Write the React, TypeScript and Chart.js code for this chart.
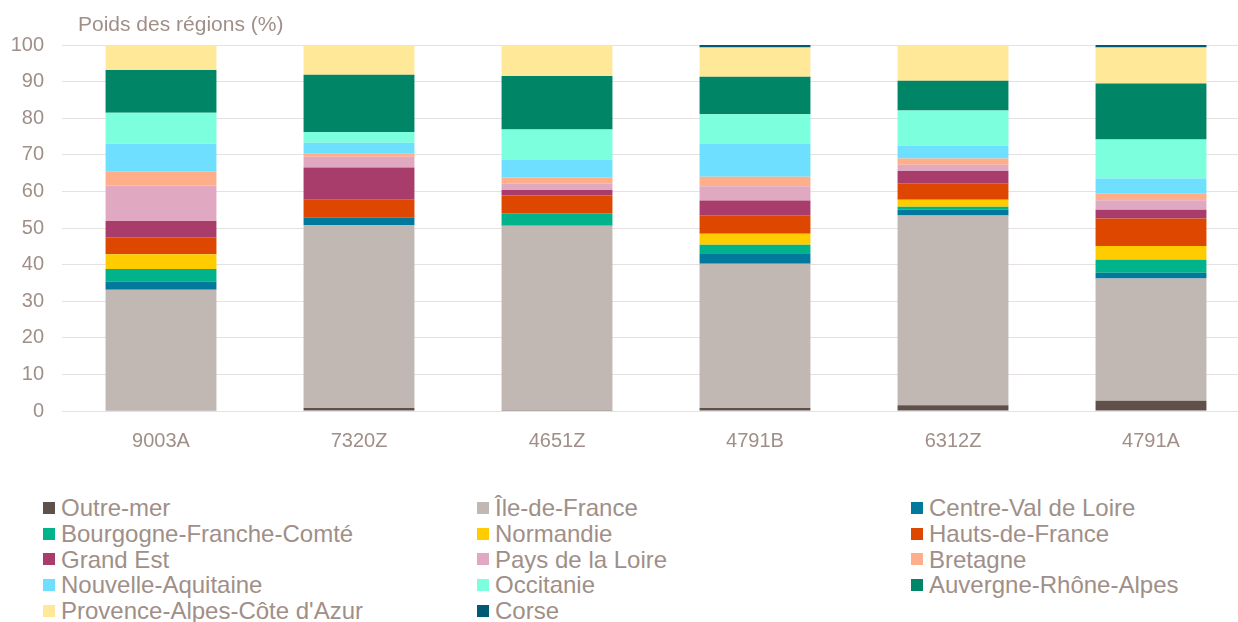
import React, { useEffect, useRef } from "react";
import { Chart, registerables } from "chart.js";

Chart.register(...registerables);

const categories = ["9003A", "7320Z", "4651Z", "4791B", "6312Z", "4791A"];
const yTicks = [0, 10, 20, 30, 40, 50, 60, 70, 80, 90, 100];
const yTitle = "Poids des régions (%)";

const outreMer = [0.2, 0.8, 0.1, 0.8, 1.6, 2.8];
const ileDeFrance = [32.9, 50.0, 50.5, 39.4, 51.8, 33.4];
const centreValDeLoire = [2.2, 2.0, 0, 2.7, 1.6, 1.6];
const bourgogneFC = [3.5, 0, 3.4, 2.5, 0.8, 3.5];
const normandie = [4.0, 0, 0, 3.0, 1.9, 3.8];
const hautsDeFrance = [4.7, 4.9, 4.9, 5.1, 4.5, 7.5];
const grandEst = [4.4, 8.8, 1.5, 4.0, 3.4, 2.4];
const paysDeLaLoire = [9.7, 3.0, 1.7, 3.9, 1.7, 2.6];
const bretagne = [3.9, 0.9, 1.7, 2.6, 1.7, 1.9];
const nouvelleAquitaine = [7.5, 2.9, 4.9, 9.1, 3.5, 4.0];
const occitanie = [8.5, 2.9, 8.2, 8.0, 9.6, 10.7];
const auvergneRA = [11.7, 15.7, 14.6, 10.2, 8.1, 15.3];
const paca = [6.8, 8.1, 8.5, 8.0, 9.8, 9.8];
const corse = [0, 0, 0, 0.7, 0, 0.7];

const seriesNames = [
  "Outre-mer",
  "Île-de-France",
  "Centre-Val de Loire",
  "Bourgogne-Franche-Comté",
  "Normandie",
  "Hauts-de-France",
  "Grand Est",
  "Pays de la Loire",
  "Bretagne",
  "Nouvelle-Aquitaine",
  "Occitanie",
  "Auvergne-Rhône-Alpes",
  "Provence-Alpes-Côte d'Azur",
  "Corse",
];
const seriesValues = [
  outreMer,
  ileDeFrance,
  centreValDeLoire,
  bourgogneFC,
  normandie,
  hautsDeFrance,
  grandEst,
  paysDeLaLoire,
  bretagne,
  nouvelleAquitaine,
  occitanie,
  auvergneRA,
  paca,
  corse,
];
const seriesColors = [
  "#5f504c",
  "#c1b8b3",
  "#00799c",
  "#00b38a",
  "#ffcc00",
  "#dd4700",
  "#a83c6a",
  "#e1a9c1",
  "#ffae8a",
  "#6fdfff",
  "#7cffdc",
  "#008566",
  "#ffe999",
  "#005a73",
];

const TEXT = "#a08f88";
const GRID = "#e6e0e0";
const FONT = "'Liberation Sans', Arial, sans-serif";

const titlePlugin = {
  id: "yTitlePlugin",
  afterDraw(chart: any) {
    const { ctx, chartArea } = chart;
    ctx.save();
    ctx.font = `21px ${FONT}`;
    ctx.fillStyle = TEXT;
    ctx.textAlign = "left";
    ctx.textBaseline = "middle";
    ctx.fillText(yTitle, chartArea.left + 16, chartArea.top - 20);
    ctx.restore();
  },
};

export default function App() {
  const ref = useRef<HTMLCanvasElement | null>(null);

  useEffect(() => {
    if (!ref.current) return;
    const chart = new Chart(ref.current, {
      type: "bar",
      data: {
        labels: categories,
        datasets: seriesNames.map((name, i) => ({
          label: name,
          data: seriesValues[i],
          backgroundColor: seriesColors[i],
          borderWidth: 0,
          barPercentage: 0.56,
          categoryPercentage: 1,
        })),
      },
      options: {
        animation: false,
        responsive: false,
        devicePixelRatio: 1,
        layout: { padding: { top: 45, left: 0, right: 0, bottom: 0 } },
        plugins: {
          legend: { display: false },
          tooltip: { enabled: false },
          title: { display: false },
        },
        scales: {
          x: {
            stacked: true,
            grid: { display: false, drawTicks: false },
            border: { display: false },
            ticks: {
              color: TEXT,
              font: { family: FONT, size: 20 },
              padding: 18,
            },
            afterFit(scale: any) {
              scale.height = 51;
            },
          },
          y: {
            stacked: true,
            min: 0,
            max: 100,
            afterBuildTicks(scale: any) {
              scale.ticks = yTicks.map((v) => ({ value: v }));
            },
            grid: { color: GRID, lineWidth: 1, drawTicks: false },
            border: { display: false },
            ticks: {
              color: TEXT,
              font: { family: FONT, size: 20 },
              padding: 18,
            },
            afterFit(scale: any) {
              scale.width = 62;
            },
          },
        },
      },
      plugins: [titlePlugin],
    });
    return () => chart.destroy();
  }, []);

  return (
    <div
      style={{
        position: "fixed",
        left: 0,
        top: 0,
        width: 1238,
        height: 622,
        overflow: "hidden",
        background: "#fff",
      }}
    >
      <canvas
        ref={ref}
        width={1250}
        height={462}
        style={{ position: "absolute", left: 0, top: 0, width: 1250, height: 462 }}
      />
      <div
        style={{
          position: "absolute",
          left: 43,
          top: 495,
          display: "grid",
          gridTemplateColumns: "434px 434px 434px",
          gridAutoRows: "25.75px",
          fontFamily: FONT,
          fontSize: 24,
          color: TEXT,
        }}
      >
        {seriesNames.map((name, i) => (
          <div
            key={name}
            style={{ display: "flex", alignItems: "center", whiteSpace: "nowrap", lineHeight: "25.75px" }}
          >
            <span
              style={{
                display: "inline-block",
                width: 12,
                height: 12,
                background: seriesColors[i],
                marginRight: 6,
                flex: "none",
              }}
            />
            <span>{name}</span>
          </div>
        ))}
      </div>
    </div>
  );
}
